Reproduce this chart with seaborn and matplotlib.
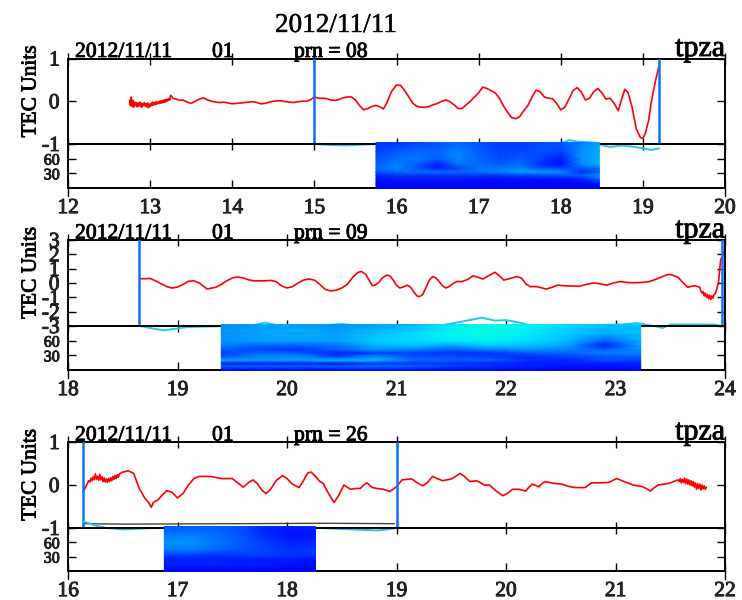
import matplotlib
matplotlib.use("Agg")
import matplotlib.pyplot as plt
import matplotlib.patheffects as pe
from matplotlib.colors import LinearSegmentedColormap
import numpy as np
import seaborn as sns

# --- panel 1, prn 08
t1 = [12.75, 12.76, 12.77, 12.78, 12.79, 12.80, 12.81, 12.82, 12.83, 12.84,
      12.85, 12.86, 12.87, 12.88, 12.89, 12.90, 12.91, 12.92, 12.93, 12.94,
      12.95, 12.96, 12.97, 12.98, 12.99, 13.00, 13.01, 13.02, 13.03, 13.04,
      13.05, 13.06, 13.07, 13.08, 13.09, 13.10, 13.11, 13.12, 13.13, 13.14,
      13.15, 13.16, 13.17, 13.18, 13.19, 13.20, 13.21, 13.22, 13.23, 13.24, 13.25,
      13.28, 13.32, 13.36, 13.40, 13.45, 13.50, 13.55,
      13.60, 13.65, 13.70, 13.75, 13.80, 13.85, 13.90, 13.95, 14.00, 14.05, 14.10, 14.15, 14.20, 14.25, 14.30, 14.35,
      14.40, 14.45, 14.50, 14.55, 14.60, 14.65, 14.70, 14.75, 14.80, 14.85, 14.90, 14.95, 15.00, 15.05, 15.10, 15.15,
      15.20, 15.25, 15.30, 15.35, 15.40, 15.45, 15.50, 15.55, 15.60, 15.65, 15.70, 15.75, 15.80, 15.84, 15.88, 15.94,
      16.00, 16.05, 16.10, 16.15, 16.20, 16.25, 16.30, 16.35, 16.40, 16.45, 16.50, 16.55, 16.60, 16.65, 16.70, 16.75,
      16.80, 16.85, 16.90, 16.95, 17.00, 17.05, 17.10, 17.15, 17.20, 17.25, 17.30, 17.35, 17.40, 17.45, 17.50, 17.55,
      17.60, 17.65, 17.70, 17.75, 17.80, 17.85, 17.90, 17.95, 18.00, 18.05, 18.10, 18.15, 18.20, 18.25, 18.30, 18.35,
      18.40, 18.45, 18.50, 18.55, 18.60, 18.65, 18.70, 18.75, 18.78, 18.82, 18.87, 18.92, 18.97, 19.00, 19.03, 19.07,
      19.10, 19.15, 19.20]
v1 = [0.02, -0.10, 0.10, -0.12, 0.02, -0.14, -0.02, -0.10, -0.03, -0.13,
      -0.05, -0.11, -0.02, -0.12, -0.04, -0.14, -0.06, -0.10, -0.03, -0.11,
      -0.06, -0.13, -0.04, -0.15, -0.07, -0.12, -0.05, -0.10, -0.02, -0.09,
      -0.04, -0.08, -0.01, -0.07, -0.02, -0.05, 0.00, -0.05, 0.01, -0.04,
      0.02, -0.03, 0.03, -0.02, 0.04, -0.01, 0.05, 0.02, 0.06, 0.03, 0.14,
      0.07, 0.05, 0.02, 0.03, -0.02, -0.05, 0.00,
      0.05, 0.08, 0.03, 0.00, -0.02, -0.03, -0.02, -0.04, -0.06, -0.05, -0.04, -0.03, -0.02, -0.01, -0.03, -0.06,
      -0.05, -0.02, 0.00, 0.01, 0.01, -0.01, -0.02, -0.03, -0.01, 0.00, 0.00, 0.03, 0.10, 0.07, 0.07, 0.06,
      0.03, 0.02, 0.04, 0.08, 0.10, 0.10, 0.03, -0.10, -0.20, -0.17, -0.12, -0.10, -0.13, -0.18, -0.05, 0.23,
      0.38, 0.37, 0.25, 0.10, -0.05, -0.12, -0.14, -0.14, -0.12, -0.08, -0.05, 0.00, 0.03, -0.01, -0.08, -0.17,
      -0.17, -0.08, 0.00, 0.10, 0.20, 0.33, 0.30, 0.25, 0.20, 0.08, -0.10, -0.25, -0.38, -0.41, -0.36, -0.22,
      -0.10, 0.10, 0.26, 0.22, 0.10, 0.07, 0.06, -0.05, -0.20, -0.14, 0.05, 0.25, 0.32, 0.22, 0.03, 0.07,
      0.22, 0.30, 0.20, 0.05, 0.07, -0.05, -0.22, 0.10, 0.28, 0.20, -0.15, -0.65, -0.85, -0.87, -0.75, -0.45,
      -0.05, 0.45, 0.85]
cyan_t1 = [15.0, 15.2, 15.4, 15.6, 15.8, 16.5, 17.5, 18.0, 18.1, 18.2, 18.4, 18.5, 18.6, 18.75, 18.9, 19.1, 19.2]
cyan_v1 = [90, 88, 87, 89, 90, 90, 90, 91, 98, 95, 93, 88, 84, 87, 84, 78, 81]
vlines1 = [15.0, 19.2]

spec_t1 = [15.75, 16.0, 16.25, 16.5, 16.75, 17.0, 17.25, 17.5, 17.75, 18.0, 18.25, 18.47]
spec_f1 = [-1, 10, 18, 26, 33, 40, 48, 60, 75, 93]
spec_z1 = [[.00, .00, .00, .00, .00, .00, .00, .00, .00, .00, .00, .00],
           [.02, .02, .02, .02, .02, .02, .02, .02, .02, .02, .03, .05],
           [.05, .08, .10, .08, .08, .05, .05, .05, .05, .05, .10, .30],
           [.10, .15, .15, .15, .15, .15, .15, .20, .20, .25, .30, .45],
           [.25, .32, .35, .35, .35, .35, .40, .50, .50, .45, .12, .30],
           [.32, .42, .25, .10, .20, .35, .38, .42, .28, .25, .25, .35],
           [.30, .42, .28, .10, .35, .35, .30, .35, .15, .05, .42, .55],
           [.25, .35, .38, .30, .42, .32, .22, .28, .20, .08, .45, .55],
           [.20, .28, .32, .32, .42, .30, .20, .22, .25, .22, .45, .55],
           [.18, .15, .20, .25, .32, .25, .18, .18, .22, .25, .40, .50]]

# --- panel 2, prn 09
t2 = [18.65, 18.70, 18.75, 18.80, 18.85, 18.90, 18.95, 19.00, 19.05, 19.10, 19.15, 19.20, 19.27, 19.35, 19.40, 19.45,
      19.50, 19.55, 19.60, 19.65, 19.70, 19.75, 19.80, 19.85, 19.90, 19.95, 20.00, 20.05, 20.10, 20.15, 20.20, 20.25,
      20.30, 20.35, 20.40, 20.45, 20.50, 20.55, 20.60, 20.65, 20.68, 20.72,
      20.78, 20.81, 20.84, 20.87, 20.91, 20.94, 20.97, 21.00, 21.03, 21.06, 21.10, 21.13, 21.16, 21.19, 21.21, 21.24,
      21.27, 21.30, 21.33, 21.36, 21.39, 21.42, 21.45, 21.48, 21.52, 21.55, 21.60, 21.65, 21.70, 21.75, 21.79, 21.84,
      21.90, 21.94, 21.98, 22.03, 22.10, 22.14, 22.18, 22.22, 22.28, 22.33, 22.37, 22.42, 22.47, 22.55, 22.67, 22.73,
      22.80, 22.86, 22.92, 22.98, 23.04, 23.12, 23.19, 23.25, 23.31, 23.40, 23.47, 23.50, 23.57, 23.62, 23.66, 23.70,
      23.73, 23.77, 23.78, 23.79, 23.80, 23.81, 23.82, 23.83, 23.84, 23.85, 23.86, 23.87, 23.88, 23.89, 23.90, 23.91,
      23.92, 23.94, 23.96, 23.99]
v2 = [0.30, 0.30, 0.32, 0.15, -0.05, -0.25, -0.35, -0.28, -0.10, 0.12, 0.15, 0.00, -0.42, -0.30, -0.10, 0.15,
      0.35, 0.42, 0.35, 0.22, 0.15, 0.15, 0.15, 0.18, 0.10, -0.20, -0.35, -0.25, 0.00, 0.20, 0.28, 0.20,
      -0.10, -0.45, -0.55, -0.50, -0.35, -0.10, 0.40, 0.75, 0.80, 0.60,
      -0.20, -0.12, 0.05, 0.35, 0.55, 0.50, 0.20, -0.15, -0.35, -0.28, -0.15, -0.30, -0.65, -0.92, -0.95, -0.80,
      -0.30, 0.20, 0.45, 0.35, 0.10, -0.20, -0.35, -0.25, -0.02, 0.10, 0.10, 0.25, 0.50, 0.38, 0.28, 0.50,
      0.75, 0.50, 0.20, 0.30, 0.45, 0.35, -0.05, -0.25, -0.25, -0.35, -0.42, -0.30, -0.15, -0.20, -0.23, -0.10,
      0.00, -0.05, -0.15, 0.00, 0.10, 0.03, 0.02, 0.05, 0.10, 0.35, 0.58, 0.60, 0.40, 0.00, -0.30, -0.22,
      -0.20, -0.30, -0.55, -0.70, -0.60, -0.90, -0.70, -1.00, -0.80, -1.10, -0.85, -1.15, -0.90, -1.05, -0.80, -0.75,
      -0.55, 0.00, 1.60, 2.15]
cyan_t2 = [18.65, 18.75, 18.87, 19.0, 19.1, 19.3, 19.5, 19.7, 19.8, 19.9, 20.2, 20.5, 20.6, 21.4, 21.5, 21.78,
           21.9, 22.0, 22.1, 22.25, 23.05, 23.2, 23.35, 23.43, 23.5, 23.9, 23.97]
cyan_v2 = [90, 86, 81, 85, 88, 89, 90, 92, 97, 92, 90, 94, 92, 91, 95, 107, 101, 102, 98, 90, 93, 96, 90, 86, 93, 93, 90]
vlines2 = [18.65, 23.97]

spec_t2 = [19.4, 19.75, 20.1, 20.45, 20.8, 21.15, 21.5, 21.85, 22.2, 22.55, 22.9, 23.23]
spec_f2 = [-1, 8, 14, 20, 27, 35, 42, 50, 60, 75, 93]
spec_z2 = [[.00, .00, .00, .00, .00, .00, .00, .00, .00, .00, .00, .00],
           [.30, .30, .30, .30, .35, .30, .20, .15, .10, .05, .05, .10],
           [.08, .08, .10, .08, .15, .15, .15, .12, .10, .10, .10, .10],
           [.55, .50, .50, .60, .60, .35, .30, .30, .15, .10, .25, .20],
           [.25, .40, .45, .20, .45, .25, .25, .20, .12, .20, .25, .30],
           [.20, .35, .30, .10, .20, .20, .15, .15, .30, .30, .40, .40],
           [.30, .20, .15, .30, .45, .40, .30, .40, .45, .40, .30, .45],
           [.40, .30, .30, .35, .55, .60, .50, .65, .60, .50, .10, .50],
           [.45, .50, .50, .50, .65, .70, .75, .85, .70, .60, .30, .55],
           [.45, .50, .55, .50, .60, .70, .95, 1.0, .78, .65, .55, .62],
           [.45, .50, .50, .45, .50, .55, .75, .90, .88, .68, .60, .62]]

# --- panel 3, prn 26
t3 = [16.14, 16.15, 16.16,
      16.17, 16.18, 16.19, 16.20, 16.21, 16.22, 16.23, 16.24, 16.25, 16.26,
      16.27, 16.28, 16.29, 16.30, 16.31, 16.32, 16.33, 16.34, 16.35, 16.36,
      16.37, 16.38, 16.39, 16.40, 16.41, 16.42, 16.43, 16.44, 16.45, 16.46, 16.47,
      16.50, 16.55, 16.60, 16.65, 16.70, 16.74, 16.76, 16.78, 16.82, 16.90, 16.95, 17.00, 17.05, 17.10, 17.15,
      17.20, 17.30, 17.40, 17.50, 17.55, 17.60, 17.65, 17.69, 17.73, 17.77, 17.81, 17.85, 17.90, 17.96, 18.00, 18.05,
      18.11, 18.15, 18.19, 18.22, 18.26, 18.30, 18.33, 18.38, 18.43, 18.47, 18.52, 18.55, 18.58, 18.63, 18.67, 18.70,
      18.73, 18.78, 18.82, 18.88, 18.94, 19.00, 19.05, 19.10, 19.14, 19.19, 19.24, 19.28, 19.33, 19.38, 19.42, 19.50,
      19.54, 19.58, 19.62, 19.67, 19.73, 19.77, 19.80, 19.85, 19.90, 19.97, 20.01, 20.06, 20.12, 20.18, 20.21, 20.24,
      20.30, 20.33, 20.36, 20.43, 20.51, 20.57, 20.63, 20.72, 20.75, 20.78, 20.86, 20.94, 21.01, 21.08, 21.16, 21.25,
      21.32, 21.35, 21.39, 21.49,
      21.57, 21.58, 21.59, 21.60, 21.61, 21.62, 21.63, 21.64, 21.65, 21.66,
      21.67, 21.68, 21.69, 21.70, 21.71, 21.72, 21.73, 21.74, 21.75, 21.76,
      21.77, 21.78, 21.79, 21.80, 21.81, 21.82, 21.83]
v3 = [-0.17, -0.10, -0.05,
      0.00, 0.05, 0.10, 0.07, 0.16, 0.10, 0.19, 0.12, 0.26, 0.13,
      0.20, 0.11, 0.25, 0.12, 0.19, 0.08, 0.17, 0.07, 0.14, 0.06,
      0.15, 0.08, 0.17, 0.10, 0.20, 0.13, 0.22, 0.15, 0.24, 0.18, 0.26,
      0.30, 0.33, 0.27, -0.08, -0.30, -0.42, -0.52, -0.40, -0.35, -0.13, -0.17, -0.30, -0.20, 0.00, 0.15,
      0.20, 0.20, 0.15, 0.15, 0.05, -0.05, 0.06, 0.12, 0.03, -0.12, -0.20, -0.10, 0.10, 0.22, 0.15, 0.02,
      -0.06, 0.10, 0.28, 0.30, 0.20, 0.08, 0.04, -0.20, -0.41, -0.25, 0.00, -0.05, -0.10, -0.08, -0.08, 0.00,
      0.05, -0.06, -0.08, -0.10, -0.15, -0.04, 0.12, 0.13, 0.14, 0.05, -0.02, 0.05, 0.20, 0.14, 0.10, 0.14,
      0.20, 0.27, 0.20, 0.08, 0.10, 0.05, 0.00, 0.00, -0.12, -0.25, -0.20, -0.10, -0.10, -0.14, -0.05, 0.02,
      -0.04, 0.04, 0.08, 0.04, 0.02, -0.03, -0.06, -0.06, -0.01, 0.05, 0.05, 0.06, 0.15, 0.08, 0.00, -0.04,
      -0.14, -0.07, 0.00, 0.04,
      0.12, 0.08, 0.15, 0.05, 0.13, 0.06, 0.16, 0.03, 0.14, 0.02,
      0.12, 0.00, 0.10, -0.02, 0.08, -0.05, 0.05, -0.10, 0.03, -0.08,
      0.02, -0.12, 0.00, -0.09, -0.02, -0.10, -0.05]
cyan_t3 = [16.14, 16.25, 16.35, 16.5, 16.8, 17.5, 18.3, 18.6, 18.82, 18.92, 19.0]
cyan_v3 = [104, 95, 90, 87, 90, 92, 90, 87, 85, 87, 90]
gray_t3 = [16.14, 16.5, 17.5, 18.4, 18.98]
gray_v3 = [-0.90, -0.91, -0.90, -0.89, -0.90]
vlines3 = [16.14, 19.0]

spec_t3 = [16.88, 17.1, 17.35, 17.55, 17.8, 18.05, 18.26]
spec_f3 = [-1, 15, 24, 33, 45, 60, 75, 93]
spec_z3 = [[.00, .00, .00, .00, .00, .00, .00],
           [.10, .10, .12, .10, .10, .05, .05],
           [.08, .10, .10, .08, .08, .08, .05],
           [.20, .20, .15, .18, .20, .15, .15],
           [.38, .40, .33, .26, .20, .15, .18],
           [.46, .46, .38, .30, .18, .10, .12],
           [.38, .40, .35, .28, .13, .05, .08],
           [.25, .28, .28, .25, .10, .08, .10]]

prn_labels = ["prn = 08", "prn = 09", "prn = 26"]
ytick_sets = [[-1, 0, 1], [-3, -2, -1, 0, 1, 2, 3], [-1, 0, 1]]

W, H = 742, 600
X0, X1 = 68, 725
# top, middle and bottom edge of each panel, in pixels
panel_rows = [(58.5, 144, 188), (240, 326, 370), (442, 528, 571)]

panels = [
    (t1, v1, cyan_t1, cyan_v1, vlines1, spec_t1, spec_f1, spec_z1, (12, 20)),
    (t2, v2, cyan_t2, cyan_v2, vlines2, spec_t2, spec_f2, spec_z2, (18, 24)),
    (t3, v3, cyan_t3, cyan_v3, vlines3, spec_t3, spec_f3, spec_z3, (16, 22)),
]

sns.set_style("ticks")
plt.rcParams["font.family"] = ["Liberation Serif", "DejaVu Serif"]

spec_cmap = LinearSegmentedColormap.from_list(
    "spec", ["#0000ff", "#0050ff", "#00a0ff", "#00e8ff", "#00ffe0"])
heavy = [pe.withStroke(linewidth=0.6, foreground="black")]


def px_text(x, y, s, **kw):
    kw.setdefault("color", "black")
    return fig.text(x / W, 1 - y / H, s, **kw)


fig = plt.figure(figsize=(W / 100, H / 100), dpi=100, facecolor="white")

for i, (t, v, ct, cv, vl, st, sf, sz, xlim) in enumerate(panels):
    top, mid, bot = panel_rows[i]
    ax = fig.add_axes([X0 / W, 1 - mid / H, (X1 - X0) / W, (mid - top) / H])
    low = fig.add_axes([X0 / W, 1 - bot / H, (X1 - X0) / W, (bot - mid) / H])
    ax.patch.set_visible(False)
    low.patch.set_visible(False)

    ticks = ytick_sets[i]
    xticks = list(range(xlim[0], xlim[1] + 1))

    # upper part: TEC curve
    sns.lineplot(x=t, y=v, ax=ax, color="red", linewidth=1.2, errorbar=None, sort=False,
                 solid_joinstyle="round")
    if i == 2:
        sns.lineplot(x=gray_t3, y=gray_v3, ax=ax, color="#444444", linewidth=1.0, errorbar=None)
    for xv in vl:
        ax.axvline(xv, color="#0f70ff", linewidth=1.8, zorder=5)
    ax.set_xlim(*xlim)
    ax.set_ylim(ticks[0], ticks[-1])
    ax.set_xticks(xticks)
    ax.set_xticklabels([])
    ax.set_yticks(ticks)
    ax.set_yticklabels([str(k) for k in ticks], fontsize=15.5, path_effects=heavy)
    ax.tick_params(axis="x", direction="inout", length=8, width=1, top=True, bottom=True, color="black")
    ax.tick_params(axis="y", direction="in", length=6, width=1, left=True, right=True, pad=6, color="black")
    ax.set_xlabel("")

    # lower part: cyan trace under the spectrogram
    sns.lineplot(x=ct, y=cv, ax=low, color="#20c8f0", linewidth=1.4, errorbar=None, sort=False, zorder=1.5)
    low.lines[-1].set_clip_on(False)
    low.pcolormesh(st, sf, np.array(sz), cmap=spec_cmap, vmin=0, vmax=1, shading="gouraud",
                   zorder=3, clip_on=False)
    low.set_xlim(*xlim)
    low.set_ylim(0, 90)
    low.set_xticks(xticks)
    low.set_xticklabels([str(k) for k in xticks], fontsize=15.5, path_effects=heavy)
    low.set_yticks([30, 60])
    low.set_yticklabels(["30", "60"], fontsize=11.5, path_effects=heavy)
    low.tick_params(axis="x", direction="in", length=6, width=1, pad=8, color="black")
    low.tick_params(axis="y", direction="in", length=6, width=1, left=True, right=True, pad=6, color="black")
    low.set_xlabel("")
    # the end ticks of the bottom axis stick out below the frame
    for xv in xlim:
        low.plot([xv, xv], [-16, 0], color="black", linewidth=1, clip_on=False)

    for a in (ax, low):
        for side in a.spines.values():
            side.set_visible(True)
            side.set_linewidth(1.4)
            side.set_color("black")

    # texts above the panel
    base = top - 1.5
    px_text(75, base, "2012/11/11", fontsize=15.6, va="baseline", ha="left", path_effects=heavy)
    px_text(212, base, "01", fontsize=15.6, va="baseline", ha="left", path_effects=heavy)
    px_text(294, base, prn_labels[i], fontsize=15.6, va="baseline", ha="left", path_effects=heavy)
    px_text(725, base - 1, "tpza", fontsize=21.6, va="baseline", ha="right", path_effects=heavy)
    px_text(31, top + 33, "TEC Units", fontsize=15.4, rotation=90, va="center", ha="center", path_effects=heavy)

px_text(336, 32, "2012/11/11", fontsize=19.6, va="baseline", ha="center",
        path_effects=[pe.withStroke(linewidth=0.3, foreground="black")])

plt.savefig("out.png", dpi=100, facecolor="white")
plt.close()
